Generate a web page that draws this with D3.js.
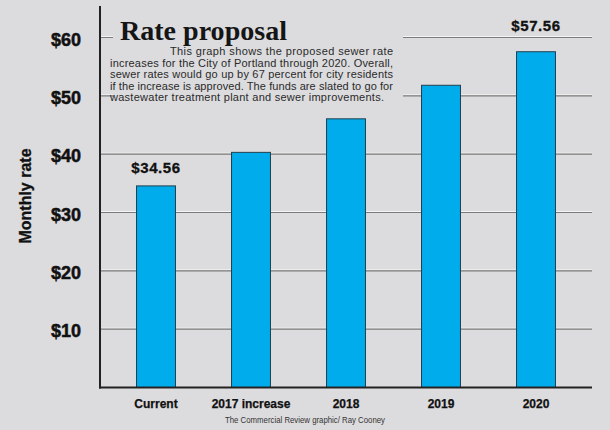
<!DOCTYPE html>
<html>
<head>
<meta charset="utf-8">
<script src="https://cdn.jsdelivr.net/npm/d3@7"></script>
<style>
  html, body { margin: 0; padding: 0; background: #dcdcde; }
  svg { display: block; }
</style>
</head>
<body>
<svg id="chart" width="610" height="430"></svg>
<script>
const categories = ["Current", "2017 increase", "2018", "2019", "2020"];
const rates = [34.56, 40.31, 46.06, 51.81, 57.56];
const yTicks = [10, 20, 30, 40, 50, 60];
const valueLabels = ["$34.56", null, null, null, "$57.56"];
const title = "Rate proposal";
const descLines = [
  "This graph shows the proposed sewer rate",
  "increases for the City of Portland through 2020. Overall,",
  "sewer rates would go up by 67 percent for city residents",
  "if the increase is approved. The funds are slated to go for",
  "wastewater treatment plant and sewer  improvements."
];
const yTitle = "Monthly rate";
const credit = "The Commercial Review graphic/ Ray Cooney";

const bg = "#dcdcde";
const svg = d3.select("#chart");
svg.append("rect").attr("width", 610).attr("height", 430).attr("fill", bg);

const axisX = 100, rightX = 592;
const x = d3.scaleBand().domain(categories).range([108.5, 583.5])
  .paddingInner(0.59).paddingOuter(0.295);
const y = d3.scaleLinear().domain([0, 60]).range([387.5, 37.5]);

// gridlines
const grid = svg.append("g");
grid.selectAll("line.hi").data(yTicks).join("line")
  .attr("class", "hi")
  .attr("x1", axisX).attr("x2", rightX)
  .attr("y1", d => y(d) - 1).attr("y2", d => y(d) - 1)
  .attr("stroke", "#f4f4f4").attr("stroke-width", 1);
grid.selectAll("line.lo").data(yTicks).join("line")
  .attr("class", "lo")
  .attr("x1", axisX).attr("x2", rightX)
  .attr("y1", d => y(d)).attr("y2", d => y(d))
  .attr("stroke", "#7a7a7a").attr("stroke-width", 1.2);

// text box covering gridlines
svg.append("rect").attr("x", 113).attr("y", 8).attr("width", 290).attr("height", 104).attr("fill", bg);

// bars
svg.append("g").selectAll("rect").data(categories).join("rect")
  .attr("x", d => x(d))
  .attr("width", x.bandwidth())
  .attr("y", (d, i) => y(rates[i]))
  .attr("height", (d, i) => y(0) - y(rates[i]))
  .attr("fill", "#00acec")
  .attr("stroke", "#22404e").attr("stroke-width", 1);

// axes lines
svg.append("line").attr("x1", axisX).attr("x2", axisX).attr("y1", 6).attr("y2", y(0) + 1)
  .attr("stroke", "#222").attr("stroke-width", 2);
svg.append("line").attr("x1", axisX - 1).attr("x2", rightX).attr("y1", y(0)).attr("y2", y(0))
  .attr("stroke", "#222").attr("stroke-width", 2);

// y axis labels
const yAxis = svg.append("g").attr("transform", `translate(${axisX},0)`)
  .call(d3.axisLeft(y).tickValues(yTicks).tickFormat(d => "$" + d).tickSize(0).tickPadding(19));
yAxis.select(".domain").remove();
yAxis.selectAll("text")
  .attr("font-family", "Liberation Sans, Arial, sans-serif")
  .attr("font-weight", "bold").attr("font-size", 18)
  .attr("fill", "#111").attr("stroke", "#111").attr("stroke-width", 0.5)
  .attr("dy", "0.42em");

// x axis labels
const xAxis = svg.append("g").attr("transform", `translate(0,${y(0)})`)
  .call(d3.axisBottom(x).tickSize(0).tickPadding(10));
xAxis.select(".domain").remove();
xAxis.selectAll("text")
  .attr("font-family", "Liberation Sans, Arial, sans-serif")
  .attr("font-weight", "bold").attr("font-size", 12)
  .attr("fill", "#111").attr("stroke", "#111").attr("stroke-width", 0.25)
  .attr("dy", "0.9em");

// value labels
const labelled = categories.filter((c, i) => valueLabels[i]);
svg.append("g").selectAll("text").data(labelled).join("text")
  .attr("x", d => x(d) + x.bandwidth() / 2)
  .attr("y", d => {
    const v = rates[categories.indexOf(d)];
    let ly = y(v) - 13;
    if (ly < y(60) + 10) ly = y(60) - 7;
    return ly;
  })
  .attr("text-anchor", "middle")
  .attr("font-family", "Liberation Sans, Arial, sans-serif")
  .attr("font-weight", "bold").attr("font-size", 15)
  .attr("letter-spacing", 0.6)
  .attr("fill", "#111").attr("stroke", "#111").attr("stroke-width", 0.3)
  .text(d => valueLabels[categories.indexOf(d)]);

// y title
svg.append("text")
  .attr("transform", "translate(31,196) rotate(-90)")
  .attr("text-anchor", "middle")
  .attr("font-family", "Liberation Sans, Arial, sans-serif")
  .attr("font-weight", "bold").attr("font-size", 16)
  .attr("fill", "#111").attr("stroke", "#111").attr("stroke-width", 0.3)
  .text(yTitle);

// title
svg.append("text")
  .attr("x", 120).attr("y", 39.5)
  .attr("font-family", "Liberation Serif, Times New Roman, serif")
  .attr("font-weight", "bold").attr("font-size", 27)
  .attr("textLength", 167).attr("lengthAdjust", "spacingAndGlyphs")
  .attr("fill", "#151515")
  .text(title);

// description
const descX = [170, 110, 110, 110, 110];
const descW = [223, 283, 283, 283, 274];
svg.append("g").selectAll("text").data(descLines).join("text")
  .attr("x", (d, i) => descX[i])
  .attr("y", (d, i) => 55 + i * 11.6)
  .attr("font-family", "Liberation Sans, Arial, sans-serif")
  .attr("font-size", 11)
  .attr("fill", "#2a2a2a")
  .attr("textLength", (d, i) => descW[i])
  .attr("lengthAdjust", "spacing")
  .text(d => d);

// credit
svg.append("text")
  .attr("x", 225).attr("y", 423)
  .attr("font-family", "Liberation Sans, Arial, sans-serif")
  .attr("font-size", 8.5)
  .attr("fill", "#333")
  .attr("textLength", 160).attr("lengthAdjust", "spacingAndGlyphs")
  .text(credit);
</script>
</body>
</html>
